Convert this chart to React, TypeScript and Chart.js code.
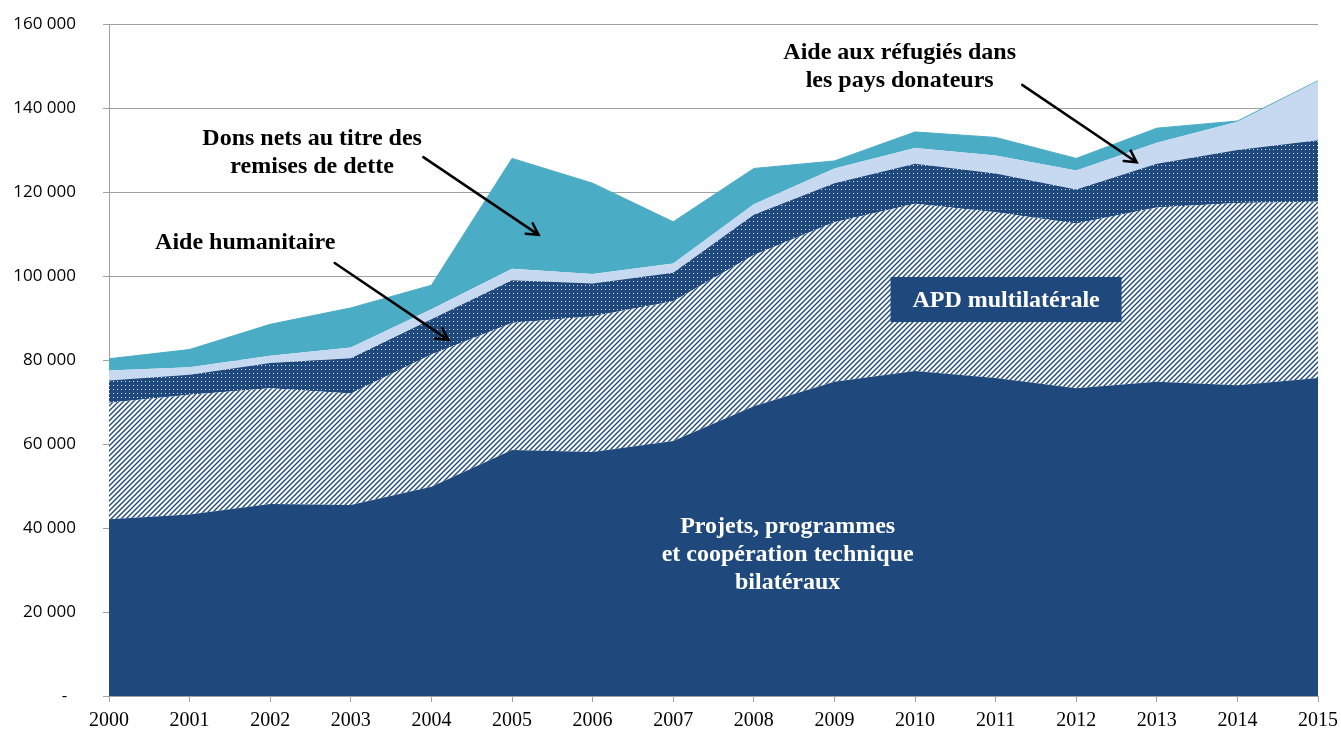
import { useEffect, useRef } from 'react';
import { Chart, registerables } from 'chart.js';

Chart.register(...registerables);

// ---------- DATA ----------
const years = ['2000', '2001', '2002', '2003', '2004', '2005', '2006', '2007', '2008', '2009', '2010', '2011', '2012', '2013', '2014', '2015'];
const bilateral = [42100, 43200, 45700, 45500, 49800, 58600, 58100, 60700, 69000, 74800, 77400, 75700, 73300, 74800, 74000, 75700];
const multilateral = [27700, 28500, 27600, 26500, 31500, 30200, 32300, 33300, 36000, 38000, 39800, 39500, 39200, 41500, 43400, 42000];
const humanitarian = [5300, 4800, 6000, 8400, 8400, 10200, 7800, 6800, 9600, 9300, 9500, 9200, 8100, 10400, 12600, 14600];
const refugees = [2400, 1800, 1700, 2600, 2400, 2700, 2300, 2200, 2500, 3500, 3800, 4300, 4500, 5000, 6700, 14100];
const debtRelief = [2800, 4200, 7500, 9400, 5700, 26300, 21600, 9900, 8500, 1800, 3800, 4300, 2900, 3500, 200, 100];
const yTickValues = [0, 20000, 40000, 60000, 80000, 100000, 120000, 140000, 160000];

// ---------- ANNOTATIONS (data coordinates: category index, value) ----------
const textNotes = [
  { lines: ['Dons nets au titre des', 'remises de dette'], x: 2.52, y: 129300, color: '#000' },
  { lines: ['Aide humanitaire'], x: 1.69, y: 107900, color: '#000' },
  { lines: ['Aide aux réfugiés dans', 'les pays donateurs'], x: 9.81, y: 149900, color: '#000' },
  { lines: ['Projets, programmes', 'et coopération technique', 'bilatéraux'], x: 8.42, y: 33600, color: '#fff' },
];
const boxNote = { text: 'APD multilatérale', x: 11.13, y: 94400 };
const arrows = [
  { from: [3.9, 128300], to: [5.33, 109800] },
  { from: [2.8, 103100], to: [4.21, 84800] },
  { from: [11.33, 145500], to: [12.75, 127100] },
];

const NAVY = '#1F497D';
const LIGHT = '#C6D9F1';
const TEAL = '#4BACC6';
const GRID = '#A0A0A0';
const SERIF = '"Liberation Serif", "Times New Roman", serif';

function fmt(v: number): string {
  if (v === 0) return '-  ';
  const s = String(Math.round(v));
  return s.replace(/\B(?=(\d{3})+(?!\d))/g, ' ');
}

function hatchPattern(ctx: CanvasRenderingContext2D): CanvasPattern | string {
  const s = 5;
  const c = document.createElement('canvas');
  c.width = s;
  c.height = s;
  const g = c.getContext('2d')!;
  g.fillStyle = '#fff';
  g.fillRect(0, 0, s, s);
  g.strokeStyle = NAVY;
  g.lineWidth = 1.4;
  g.beginPath();
  g.moveTo(-1, s + 1);
  g.lineTo(s + 1, -1);
  g.moveTo(-1, 1);
  g.lineTo(1, -1);
  g.moveTo(s - 1, s + 1);
  g.lineTo(s + 1, s - 1);
  g.stroke();
  return ctx.createPattern(c, 'repeat') || NAVY;
}

function dotPattern(ctx: CanvasRenderingContext2D): CanvasPattern | string {
  const s = 4;
  const c = document.createElement('canvas');
  c.width = s;
  c.height = s;
  const g = c.getContext('2d')!;
  g.fillStyle = NAVY;
  g.fillRect(0, 0, s, s);
  g.fillStyle = 'rgba(255,255,255,0.85)';
  g.fillRect(1, 1, 1, 1);
  return ctx.createPattern(c, 'repeat') || NAVY;
}

const notesPlugin = {
  id: 'notes',
  afterDatasetsDraw(chart: any) {
    const { ctx } = chart;
    const xs = chart.scales.x;
    const ys = chart.scales.y;
    ctx.save();
    ctx.textAlign = 'center';
    ctx.textBaseline = 'middle';

    // box label
    const bx = xs.getPixelForValue(boxNote.x);
    const by = ys.getPixelForValue(boxNote.y);
    ctx.fillStyle = NAVY;
    ctx.fillRect(bx - 115.5, by - 22.5, 231, 45);
    ctx.fillStyle = '#fff';
    ctx.font = `bold 24px ${SERIF}`;
    ctx.fillText(boxNote.text, bx, by + 1);

    // text notes
    ctx.font = `bold 24px ${SERIF}`;
    for (const n of textNotes) {
      const cx = xs.getPixelForValue(n.x);
      const cy = ys.getPixelForValue(n.y);
      const lh = 28;
      const top = cy - ((n.lines.length - 1) * lh) / 2;
      ctx.fillStyle = n.color;
      n.lines.forEach((l, i) => ctx.fillText(l, cx, top + i * lh));
    }

    // arrows
    ctx.strokeStyle = '#000';
    ctx.lineWidth = 2.5;
    ctx.lineCap = 'round';
    for (const a of arrows) {
      const x1 = xs.getPixelForValue(a.from[0]);
      const y1 = ys.getPixelForValue(a.from[1]);
      const x2 = xs.getPixelForValue(a.to[0]);
      const y2 = ys.getPixelForValue(a.to[1]);
      const ang = Math.atan2(y2 - y1, x2 - x1);
      ctx.beginPath();
      ctx.moveTo(x1, y1);
      ctx.lineTo(x2, y2);
      const hl = 13;
      const hw = 0.5;
      ctx.moveTo(x2 - hl * Math.cos(ang - hw), y2 - hl * Math.sin(ang - hw));
      ctx.lineTo(x2, y2);
      ctx.lineTo(x2 - hl * Math.cos(ang + hw), y2 - hl * Math.sin(ang + hw));
      ctx.stroke();
    }
    ctx.restore();
  },
};

export default function App() {
  const ref = useRef<HTMLCanvasElement>(null);

  useEffect(() => {
    const canvas = ref.current!;
    const ctx = canvas.getContext('2d')!;
    const hatch = hatchPattern(ctx);
    const dots = dotPattern(ctx);
    const base = {
      pointRadius: 0,
      pointHoverRadius: 0,
      tension: 0,
      borderWidth: 0,
      borderColor: 'rgba(0,0,0,0)',
    };
    const chart = new Chart(canvas, {
      type: 'line',
      data: {
        labels: years,
        datasets: [
          { ...base, label: 'Projets, programmes et coopération technique bilatéraux', data: bilateral, backgroundColor: NAVY, fill: 'origin' },
          { ...base, label: 'APD multilatérale', data: multilateral, backgroundColor: hatch as any, fill: '-1' },
          { ...base, label: 'Aide humanitaire', data: humanitarian, backgroundColor: dots as any, fill: '-1' },
          { ...base, label: 'Aide aux réfugiés dans les pays donateurs', data: refugees, backgroundColor: LIGHT, fill: '-1' },
          { ...base, label: 'Dons nets au titre des remises de dette', data: debtRelief, backgroundColor: TEAL, borderColor: TEAL, borderWidth: 1, fill: '-1' },
        ],
      },
      options: {
        responsive: false,
        animation: false,
        devicePixelRatio: 1,
        events: [],
        layout: { padding: { left: 0, right: 23, top: 24, bottom: 0 } },
        plugins: {
          legend: { display: false },
          tooltip: { enabled: false },
        },
        scales: {
          x: {
            type: 'category',
            offset: false,
            grid: { display: true, drawOnChartArea: false, drawTicks: true, tickLength: 6, color: GRID },
            border: { display: true, color: GRID },
            ticks: {
              font: { family: SERIF, size: 20 },
              color: '#000',
              padding: 7,
              maxRotation: 0,
              autoSkip: false,
            },
            afterFit: (s: any) => {
              s.height = 35;
              s.paddingLeft = 0;
              s.paddingRight = 0;
            },
          },
          y: {
            stacked: true,
            min: 0,
            max: 160000,
            afterBuildTicks: (s: any) => {
              s.ticks = yTickValues.map((v) => ({ value: v }));
            },
            ticks: {
              callback: (v: any) => fmt(Number(v)),
              font: { family: '"Open Sans", sans-serif', size: 17 },
              color: '#000',
              padding: 27,
            },
            grid: { color: GRID, tickLength: 6, lineWidth: 1 },
            border: { display: true, color: GRID },
            afterFit: (s: any) => {
              s.width = 109;
              s.paddingTop = 0;
              s.paddingBottom = 0;
            },
          },
        },
      },
      plugins: [notesPlugin],
    });
    return () => chart.destroy();
  }, []);

  return (
    <div style={{ position: 'fixed', left: 0, top: 0, width: 1341, height: 731, background: '#fff' }}>
      <canvas ref={ref} width={1341} height={731} style={{ display: 'block', width: 1341, height: 731 }} />
    </div>
  );
}
